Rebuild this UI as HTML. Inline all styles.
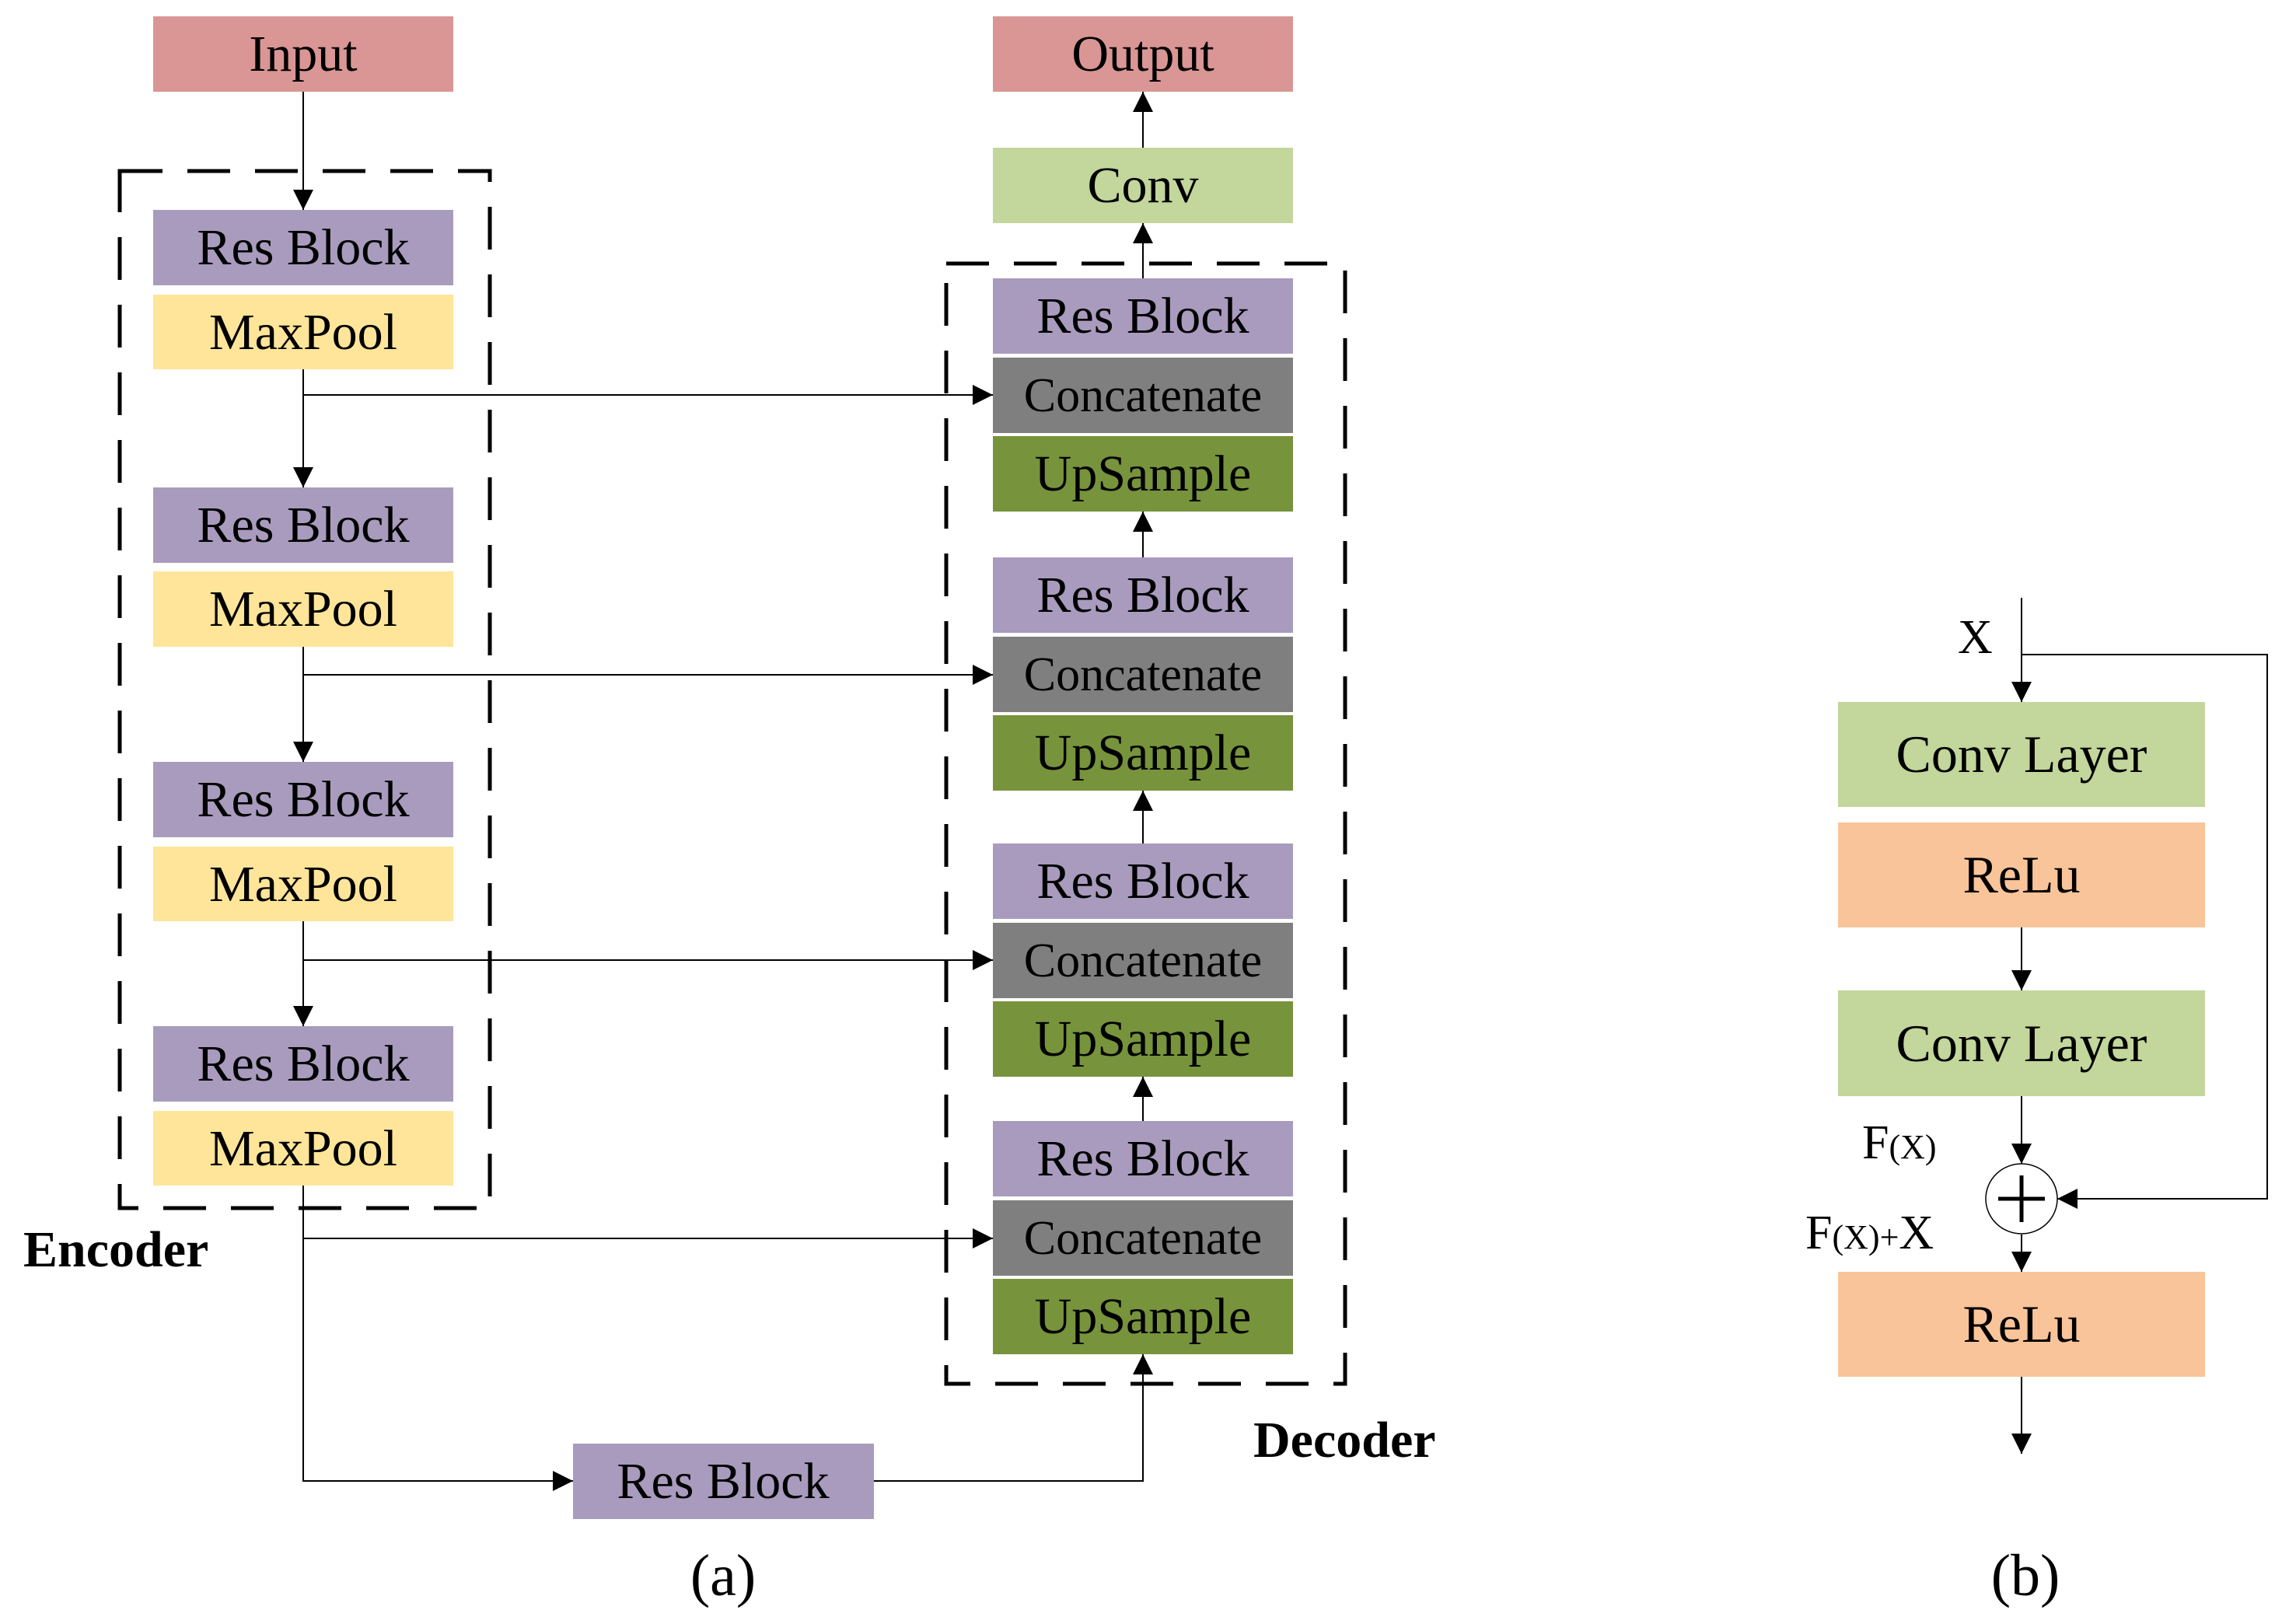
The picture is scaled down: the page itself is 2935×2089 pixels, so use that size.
<!DOCTYPE html>
<html><head><meta charset="utf-8"><style>
html,body{margin:0;padding:0;background:#fff;}
svg{display:block;}
text{font-family:"Liberation Serif",serif;fill:#000;}
</style></head><body>
<svg width="2935" height="2089" viewBox="0 0 2935 2089" xmlns="http://www.w3.org/2000/svg">
<defs>
<marker id="a" viewBox="0 0 10 10" refX="10" refY="5" markerWidth="26" markerHeight="26" markerUnits="userSpaceOnUse" orient="auto">
<path d="M0,0 L10,5 L0,10 z" fill="#000"/></marker>
</defs>
<g stroke="#000" stroke-width="2" fill="none">
<line x1="390" y1="118" x2="390" y2="270" marker-end="url(#a)"/>
<line x1="390" y1="475" x2="390" y2="627" marker-end="url(#a)"/>
<line x1="390" y1="832" x2="390" y2="980" marker-end="url(#a)"/>
<line x1="390" y1="1185" x2="390" y2="1320" marker-end="url(#a)"/>
<polyline points="390,1525 390,1905 737,1905" marker-end="url(#a)"/>
<polyline points="1124,1905 1470,1905 1470,1742" marker-end="url(#a)"/>
<line x1="390" y1="508" x2="1277" y2="508" marker-end="url(#a)"/>
<line x1="390" y1="868" x2="1277" y2="868" marker-end="url(#a)"/>
<line x1="390" y1="1235" x2="1277" y2="1235" marker-end="url(#a)"/>
<line x1="390" y1="1593" x2="1277" y2="1593" marker-end="url(#a)"/>
<line x1="1470" y1="1085" x2="1470" y2="1017" marker-end="url(#a)"/>
<line x1="1470" y1="1442" x2="1470" y2="1385" marker-end="url(#a)"/>
<line x1="1470" y1="717" x2="1470" y2="658" marker-end="url(#a)"/>
<line x1="1470" y1="358" x2="1470" y2="287" marker-end="url(#a)"/>
<line x1="1470" y1="190" x2="1470" y2="118" marker-end="url(#a)"/>
<line x1="2600" y1="769" x2="2600" y2="903" marker-end="url(#a)"/>
<polyline points="2600,842 2916,842 2916,1542 2646,1542" marker-end="url(#a)"/>
<line x1="2600" y1="1193" x2="2600" y2="1274" marker-end="url(#a)"/>
<line x1="2600" y1="1410" x2="2600" y2="1497" marker-end="url(#a)"/>
<line x1="2600" y1="1588" x2="2600" y2="1636" marker-end="url(#a)"/>
<line x1="2600" y1="1771" x2="2600" y2="1870" marker-end="url(#a)"/>
</g>
<rect x="154" y="220" width="476" height="1334" fill="none" stroke="#000" stroke-width="5" stroke-dasharray="55,32"/>
<rect x="1217" y="339" width="513" height="1441" fill="none" stroke="#000" stroke-width="5" stroke-dasharray="55,32"/>
<g>
<rect x="197" y="21" width="386" height="97" fill="#D99694"/>
<rect x="197" y="270" width="386" height="97" fill="#A99BBD"/>
<rect x="197" y="379" width="386" height="96" fill="#FEE599"/>
<rect x="197" y="627" width="386" height="97" fill="#A99BBD"/>
<rect x="197" y="735" width="386" height="97" fill="#FEE599"/>
<rect x="197" y="980" width="386" height="97" fill="#A99BBD"/>
<rect x="197" y="1089" width="386" height="96" fill="#FEE599"/>
<rect x="197" y="1320" width="386" height="97" fill="#A99BBD"/>
<rect x="197" y="1429" width="386" height="96" fill="#FEE599"/>
<rect x="737" y="1857" width="387" height="97" fill="#A99BBD"/>
<rect x="1277" y="21" width="386" height="97" fill="#D99694"/>
<rect x="1277" y="190" width="386" height="97" fill="#C3D69B"/>
</g>
<rect x="1277" y="358" width="386" height="97" fill="#A99BBD"/>
<rect x="1277" y="460" width="386" height="97" fill="#7F7F7F"/>
<rect x="1277" y="561" width="386" height="97" fill="#77933C"/>
<rect x="1277" y="717" width="386" height="97" fill="#A99BBD"/>
<rect x="1277" y="819" width="386" height="97" fill="#7F7F7F"/>
<rect x="1277" y="920" width="386" height="97" fill="#77933C"/>
<rect x="1277" y="1085" width="386" height="97" fill="#A99BBD"/>
<rect x="1277" y="1187" width="386" height="97" fill="#7F7F7F"/>
<rect x="1277" y="1288" width="386" height="97" fill="#77933C"/>
<rect x="1277" y="1442" width="386" height="97" fill="#A99BBD"/>
<rect x="1277" y="1544" width="386" height="97" fill="#7F7F7F"/>
<rect x="1277" y="1645" width="386" height="97" fill="#77933C"/>
<rect x="2364" y="903" width="472" height="135" fill="#C3D69B"/>
<rect x="2364" y="1058" width="472" height="135" fill="#F9C499"/>
<rect x="2364" y="1274" width="472" height="136" fill="#C3D69B"/>
<rect x="2364" y="1636" width="472" height="135" fill="#F9C499"/>
<ellipse cx="2600" cy="1542" rx="46" ry="45" fill="#fff" stroke="#000" stroke-width="1.5"/>
<line x1="2570" y1="1542" x2="2630" y2="1542" stroke="#000" stroke-width="5"/>
<line x1="2600" y1="1512" x2="2600" y2="1572" stroke="#000" stroke-width="5"/>
<g font-size="66" text-anchor="middle">
<text x="390" y="91">Input</text>
<text x="390" y="340">Res Block</text>
<text x="390" y="449">MaxPool</text>
<text x="390" y="697">Res Block</text>
<text x="390" y="805">MaxPool</text>
<text x="390" y="1050">Res Block</text>
<text x="390" y="1159">MaxPool</text>
<text x="390" y="1390">Res Block</text>
<text x="390" y="1499">MaxPool</text>
<text x="930" y="1927">Res Block</text>
<text x="1470" y="91">Output</text>
<text x="1470" y="260">Conv</text>
<text x="1470" y="428">Res Block</text>
<text x="1470" y="787">Res Block</text>
<text x="1470" y="1155">Res Block</text>
<text x="1470" y="1512">Res Block</text>
<text x="1470" y="631">UpSample</text>
<text x="1470" y="990">UpSample</text>
<text x="1470" y="1358">UpSample</text>
<text x="1470" y="1715">UpSample</text>
</g>
<g font-size="62" text-anchor="middle">
<text x="1470" y="529">Concatenate</text>
<text x="1470" y="888">Concatenate</text>
<text x="1470" y="1256">Concatenate</text>
<text x="1470" y="1613">Concatenate</text>
</g>
<g font-size="68" text-anchor="middle">
<text x="2600" y="993">Conv Layer</text>
<text x="2600" y="1148">ReLu</text>
<text x="2600" y="1365">Conv Layer</text>
<text x="2600" y="1726">ReLu</text>
</g>
<g font-size="76" text-anchor="middle">
<text x="930" y="2052">(a)</text>
<text x="2605" y="2052">(b)</text>
</g>
<g font-size="66" font-weight="bold">
<text x="30" y="1629">Encoder</text>
<text x="1612" y="1874">Decoder</text>
</g>
<text x="2518" y="840" font-size="62">X</text>
<text x="2395" y="1490" font-size="62">F<tspan font-size="44">(X)</tspan></text>
<text x="2322" y="1606" font-size="62">F<tspan font-size="44">(X)+</tspan>X</text>
</svg>
</body></html>
